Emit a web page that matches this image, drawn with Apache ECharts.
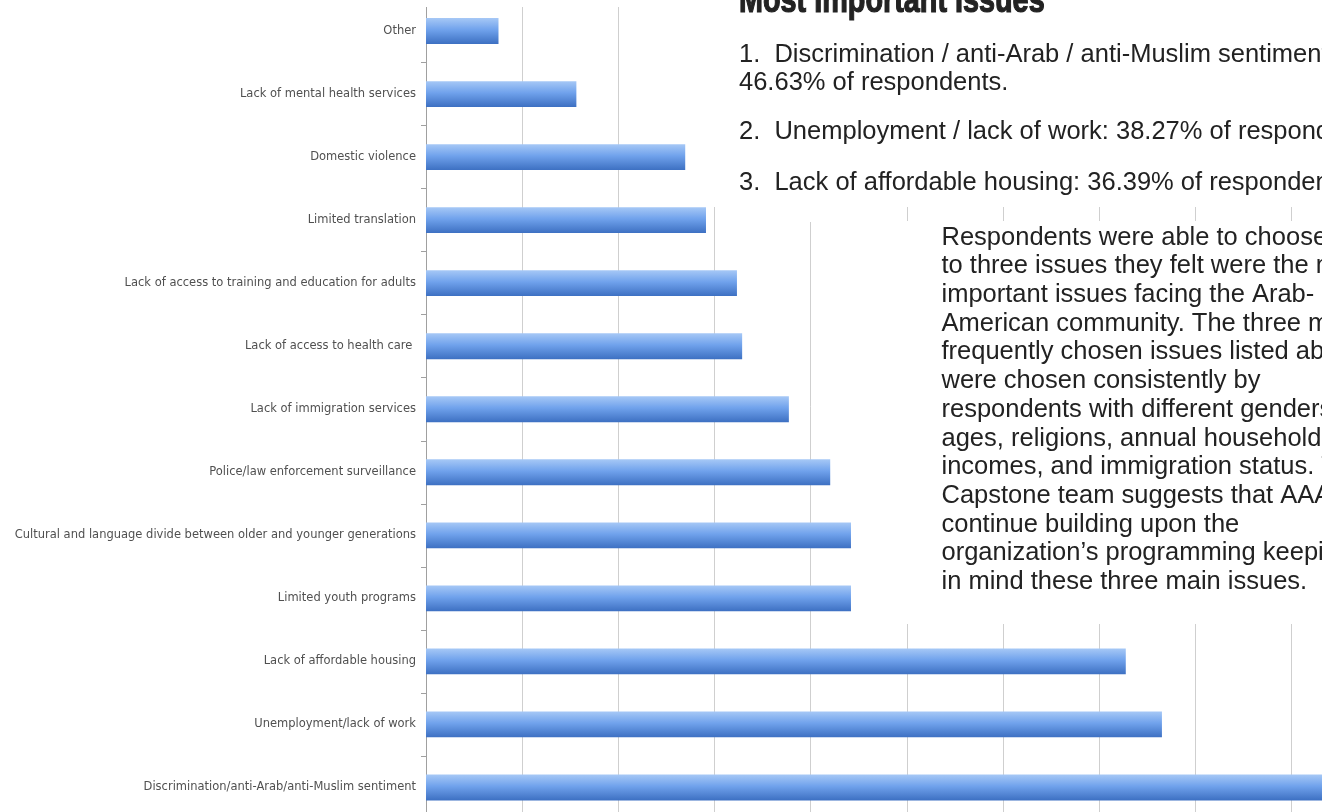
<!DOCTYPE html>
<html>
<head>
<meta charset="utf-8">
<script src="https://cdn.jsdelivr.net/npm/echarts@6/dist/echarts.min.js"></script>
<style>
  html, body { margin: 0; padding: 0; background: #ffffff; }
  #chart { width: 1322px; height: 812px; }
</style>
</head>
<body>
<div id="chart"></div>
<script>
// Survey issues, listed top to bottom as they appear on the chart
const issues = [
  'Other',
  'Lack of mental health services',
  'Domestic violence',
  'Limited translation',
  'Lack of access to training and education for adults',
  'Lack of access to health care ',
  'Lack of immigration services',
  'Police/law enforcement surveillance',
  'Cultural and language divide between older and younger generations',
  'Limited youth programs',
  'Lack of affordable housing',
  'Unemployment/lack of work',
  'Discrimination/anti-Arab/anti-Muslim sentiment'
];

// Share of respondents choosing each issue (%)
const sharePct = [3.77, 7.82, 13.48, 14.56, 16.17, 16.44, 18.87, 21.02, 22.10, 22.10, 36.39, 38.27, 46.63];

// Value axis range (%)
const axisMin = 0;
const axisMax = 50;
const axisStep = 5;

const pct = v => v.toFixed(2) + '%';

// Summary block text
const headline = 'Most Important Issues';
const rankedLines = [
  '1.  Discrimination / anti-Arab / anti-Muslim sentiment:',
  pct(sharePct[12]) + ' of respondents.',
  '2.  Unemployment / lack of work: ' + pct(sharePct[11]) + ' of respondents.',
  '3.  Lack of affordable housing: ' + pct(sharePct[10]) + ' of respondents.'
];
const noteLines = [
  'Respondents were able to choose up',
  'to three issues they felt were the most',
  'important issues facing the Arab-',
  'American community. The three most',
  'frequently chosen issues listed above',
  'were chosen consistently by',
  'respondents with different genders,',
  'ages, religions, annual household',
  'incomes, and immigration status. The',
  'Capstone team suggests that AAAN',
  'continue building upon the',
  'organization\u2019s programming keeping',
  'in mind these three main issues.'
];

const chart = echarts.init(document.getElementById('chart'), null, { renderer: 'canvas' });

const textFont = '"Liberation Sans", Arial, Helvetica, sans-serif';
const bodySize = 25.5;
const midOffset = 0.31 * bodySize; // alphabetic baseline sits this far below the em middle

const rankedBaselines = [62.5, 90.5, 139.5, 191];
const noteTop = 245.5;
const noteStep = 28.7;

const graphics = [
  // mask over the very top of the plot
  { type: 'rect', z: 100, shape: { x: 0, y: 0, width: 692, height: 7 }, style: { fill: '#ffffff' } },
  // white panels behind the text blocks
  { type: 'rect', z: 100, shape: { x: 692, y: 0, width: 640, height: 207 }, style: { fill: '#ffffff' } },
  { type: 'rect', z: 100, shape: { x: 740, y: 200, width: 140, height: 22 }, style: { fill: '#ffffff' } },
  { type: 'rect', z: 100, shape: { x: 878, y: 221, width: 460, height: 403 }, style: { fill: '#ffffff' } },
  {
    type: 'text', z: 101, x: 739, y: 13 - 0.31 * 36, scaleX: 0.8,
    style: {
      text: headline, fontSize: 36, fontWeight: 'bold', fontFamily: textFont,
      fill: '#222222', stroke: '#222222', lineWidth: 1.2,
      align: 'left', verticalAlign: 'middle'
    }
  }
];

rankedLines.forEach((line, i) => {
  graphics.push({
    type: 'text', z: 101, x: 739, y: rankedBaselines[i] - midOffset,
    style: {
      text: line, fontSize: bodySize, fontFamily: textFont, fill: '#222222',
      align: 'left', verticalAlign: 'middle'
    }
  });
});

noteLines.forEach((line, i) => {
  graphics.push({
    type: 'text', z: 101, x: 941.5, y: noteTop + i * noteStep - midOffset,
    style: {
      text: line, fontSize: bodySize, fontFamily: textFont, fill: '#222222',
      align: 'left', verticalAlign: 'middle'
    }
  });
});

chart.setOption({
  backgroundColor: '#ffffff',
  animation: false,
  grid: {
    left: 426,
    top: -0.5,
    width: 961.5,
    height: 819.5,
    containLabel: false,
    outerBoundsMode: 'none'
  },
  xAxis: {
    type: 'value',
    min: axisMin,
    max: axisMax,
    interval: axisStep,
    axisLabel: { show: false },
    axisLine: { show: false },
    axisTick: { show: false },
    splitLine: { show: true, lineStyle: { color: '#cfcfcf', width: 1 } }
  },
  yAxis: {
    type: 'category',
    inverse: true,
    data: issues,
    axisLine: { show: true, lineStyle: { color: '#a0a0a0', width: 1 } },
    axisTick: { show: true, length: 5, lineStyle: { color: '#a0a0a0' } },
    axisLabel: {
      margin: 10,
      fontSize: 11.5,
      fontFamily: '"DejaVu Sans", sans-serif',
      color: '#505050'
    },
    splitLine: { show: false }
  },
  series: [{
    type: 'bar',
    data: sharePct,
    barWidth: '41%',
    itemStyle: {
      color: new echarts.graphic.LinearGradient(0, 0, 0, 1, [
        { offset: 0, color: '#a6c8f6' },
        { offset: 0.45, color: '#70a2ec' },
        { offset: 1, color: '#3d70c2' }
      ])
    }
  }],
  graphic: graphics
});
</script>
</body>
</html>
